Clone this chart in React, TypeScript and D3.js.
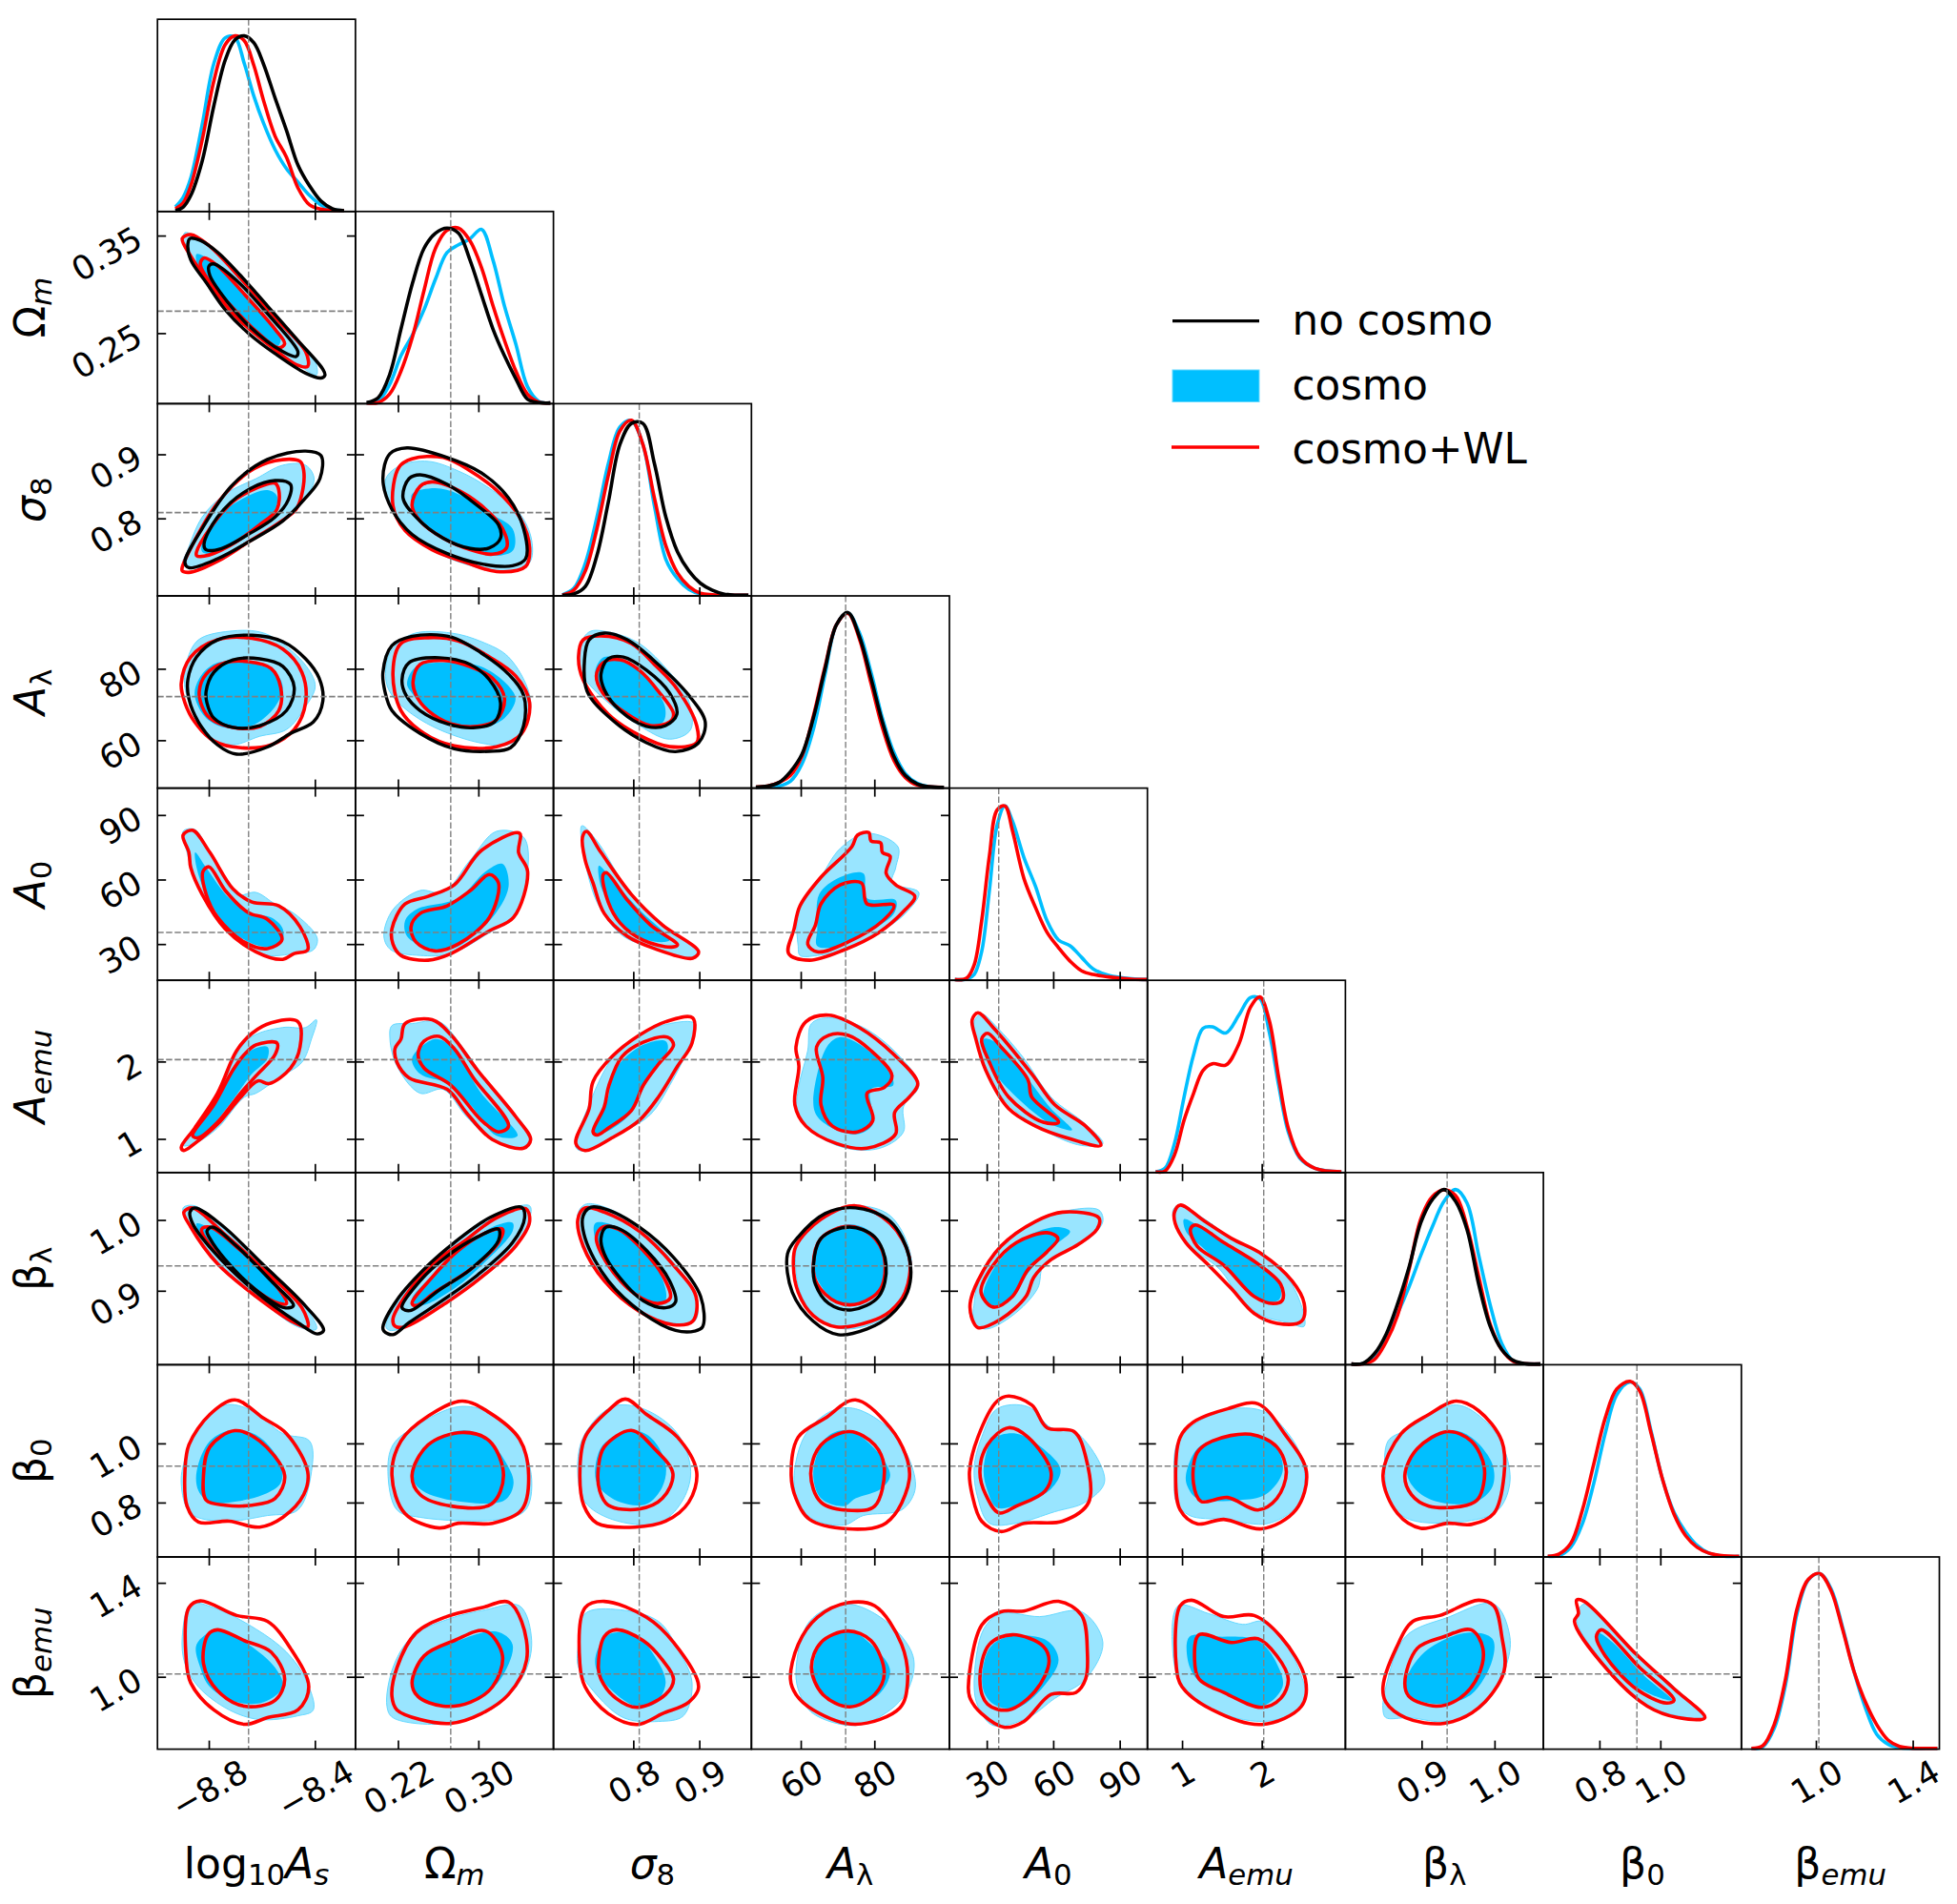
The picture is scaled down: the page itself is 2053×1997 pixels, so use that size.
import React, { useRef, useEffect } from "react";
import * as d3 from "d3";

// parameters, in corner plot order
const paramDomains = [
  [-8.9935, -8.247], [0.1777, 0.3747], [0.679, 0.979], [46.6, 100.4], [13.15, 102.5],
  [0.565, 3.05], [0.7955, 1.067], [0.616, 1.266], [0.692, 1.51],
];
const truths = [-8.65, 0.2725, 0.809, 72.2, 35.4, 2.025, 0.935, 0.923, 1.012];
const xTicks = [[-8.8, -8.4], [0.22, 0.3], [0.8, 0.9], [60, 80], [30, 60, 90], [1, 2], [0.9, 1.0], [0.8, 1.0], [1.0, 1.4]];
const xTickText = [["\u22128.8", "\u22128.4"], ["0.22", "0.30"], ["0.8", "0.9"], ["60", "80"], ["30", "60", "90"], ["1", "2"], ["0.9", "1.0"], ["0.8", "1.0"], ["1.0", "1.4"]];
const yTicks = [[], [0.25, 0.35], [0.8, 0.9], [60, 80], [30, 60, 90], [1, 2], [0.9, 1.0], [0.8, 1.0], [1.0, 1.4]];
const yTickText = [[], ["0.25", "0.35"], ["0.8", "0.9"], ["60", "80"], ["30", "60", "90"], ["1", "2"], ["0.9", "1.0"], ["0.8", "1.0"], ["1.0", "1.4"]];
// label pieces: text, italic, subscript
const axisLabels: any[] = [
  [["log", 0, 0], ["10", 0, 1], ["A", 1, 0], ["s", 1, 1]],
  [["\u03a9", 0, 0], ["m", 1, 1]],
  [["\u03c3", 1, 0], ["8", 0, 1]],
  [["A", 1, 0], ["\u03bb", 0, 1]],
  [["A", 1, 0], ["0", 0, 1]],
  [["A", 1, 0], ["emu", 1, 1]],
  [["\u03b2", 0, 0], ["\u03bb", 0, 1]],
  [["\u03b2", 0, 0], ["0", 0, 1]],
  [["\u03b2", 0, 0], ["emu", 1, 1]],
];
const legendNames = ["no cosmo", "cosmo", "cosmo+WL"];

// 1D posteriors: parameter grid and peak-normalised density of each run
const asGrid = [-8.926, -8.897, -8.868, -8.825, -8.781, -8.738, -8.702, -8.666, -8.63, -8.594, -8.55, -8.507, -8.464, -8.42, -8.377, -8.334, -8.29];
const asNo = [0, 0.02, 0.087, 0.284, 0.6, 0.862, 0.976, 1, 0.96, 0.84, 0.644, 0.459, 0.262, 0.142, 0.055, 0.011, 0];
const asCosmo = [0.022, 0.076, 0.186, 0.491, 0.841, 0.989, 0.993, 0.841, 0.655, 0.502, 0.349, 0.24, 0.164, 0.087, 0.033, 0.007, 0];
const asWL = [0.011, 0.044, 0.142, 0.404, 0.742, 0.95, 1, 0.972, 0.83, 0.633, 0.426, 0.306, 0.131, 0.033, 0.009, 0.002, 0];
const omGrid = [0.1888, 0.2002, 0.2116, 0.223, 0.2345, 0.2459, 0.2573, 0.2688, 0.2802, 0.2916, 0.303, 0.3145, 0.3259, 0.3373, 0.3488, 0.3602, 0.3716];
const omNo = [0.002, 0.029, 0.16, 0.423, 0.686, 0.884, 0.971, 1, 0.971, 0.818, 0.62, 0.423, 0.27, 0.138, 0.022, 0.002, 0];
const omCosmo = [0, 0.011, 0.105, 0.27, 0.39, 0.533, 0.708, 0.86, 0.904, 0.939, 0.993, 0.818, 0.555, 0.336, 0.094, 0.009, 0];
const omWL = [0, 0.002, 0.05, 0.182, 0.379, 0.643, 0.884, 0.987, 1, 0.928, 0.776, 0.557, 0.359, 0.182, 0.05, 0.004, 0];
const s8Grid = [0.6924, 0.7099, 0.7273, 0.7448, 0.7622, 0.7797, 0.7971, 0.8145, 0.832, 0.8494, 0.8669, 0.8843, 0.9017, 0.9192, 0.9366, 0.9541, 0.9744];
const s8No = [0, 0.007, 0.05, 0.226, 0.533, 0.862, 0.982, 0.982, 0.752, 0.445, 0.248, 0.138, 0.068, 0.029, 0.007, 0, 0];
const s8Cosmo = [0.002, 0.039, 0.182, 0.445, 0.752, 0.961, 0.998, 0.862, 0.51, 0.204, 0.094, 0.033, 0.007, 0, 0, 0, 0];
const s8WL = [0, 0.029, 0.138, 0.379, 0.686, 0.939, 1, 0.862, 0.555, 0.281, 0.127, 0.05, 0.011, 0.002, 0, 0, 0];
const alGrid = [47.8, 50.9, 54.1, 57.2, 60.3, 63.4, 66.6, 69.7, 72.8, 75.9, 79.1, 82.2, 85.3, 88.4, 91.6, 94.7, 98.9];
const alNo = [0.002, 0.007, 0.028, 0.09, 0.188, 0.395, 0.678, 0.93, 1, 0.865, 0.624, 0.373, 0.177, 0.068, 0.02, 0.004, 0];
const alCosmo = [0, 0.002, 0.007, 0.035, 0.133, 0.33, 0.646, 0.93, 0.996, 0.886, 0.657, 0.395, 0.199, 0.079, 0.024, 0.004, 0];
const alWL = [0.002, 0.007, 0.028, 0.068, 0.177, 0.406, 0.69, 0.93, 0.996, 0.852, 0.594, 0.341, 0.155, 0.057, 0.013, 0.004, 0];
const a0Grid = [15.6, 20.8, 24.3, 27.7, 31.2, 34.7, 38.2, 41.6, 46.8, 52.0, 57.2, 62.4, 67.6, 72.8, 78.0, 85.0, 95.4, 102.3];
const a0Cosmo = [0, 0.002, 0.029, 0.16, 0.51, 0.884, 0.993, 0.906, 0.697, 0.533, 0.336, 0.226, 0.193, 0.127, 0.061, 0.024, 0.004, 0];
const a0WL = [0, 0.007, 0.083, 0.336, 0.708, 0.971, 0.993, 0.851, 0.577, 0.412, 0.27, 0.182, 0.105, 0.05, 0.029, 0.015, 0.002, 0];
const aeGrid = [0.667, 0.786, 0.905, 1.024, 1.143, 1.262, 1.381, 1.548, 1.714, 1.857, 1.976, 2.095, 2.214, 2.333, 2.476, 2.667, 3.0];
const aeCosmo = [0, 0.02, 0.162, 0.425, 0.667, 0.82, 0.829, 0.794, 0.897, 0.996, 0.991, 0.798, 0.491, 0.228, 0.079, 0.02, 0];
const aeWL = [0, 0.004, 0.096, 0.294, 0.447, 0.579, 0.618, 0.61, 0.732, 0.94, 1, 0.864, 0.535, 0.25, 0.085, 0.02, 0];
const blGrid = [0.8037, 0.8196, 0.8354, 0.8513, 0.8672, 0.8831, 0.8989, 0.9148, 0.9307, 0.9466, 0.9624, 0.9783, 0.9942, 1.0101, 1.0259, 1.0418, 1.063];
const blNo = [0, 0.004, 0.059, 0.17, 0.346, 0.558, 0.808, 0.941, 0.998, 0.93, 0.767, 0.456, 0.214, 0.081, 0.02, 0.002, 0];
const blCosmo = [0, 0.002, 0.033, 0.159, 0.291, 0.445, 0.621, 0.786, 0.93, 0.998, 0.919, 0.621, 0.335, 0.115, 0.015, 0.002, 0];
const blWL = [0, 0, 0.026, 0.126, 0.28, 0.546, 0.83, 0.958, 0.996, 0.963, 0.786, 0.5, 0.225, 0.081, 0.015, 0.002, 0];
const b0Grid = [0.6302, 0.6679, 0.7057, 0.7434, 0.7811, 0.8189, 0.8566, 0.9006, 0.9321, 0.9698, 1.0075, 1.0453, 1.083, 1.1208, 1.1585, 1.2088, 1.2591];
const b0Cosmo = [0, 0.004, 0.051, 0.183, 0.415, 0.702, 0.923, 0.996, 0.956, 0.713, 0.437, 0.249, 0.139, 0.062, 0.018, 0, 0];
const b0WL = [0, 0.013, 0.073, 0.26, 0.525, 0.79, 0.956, 1, 0.945, 0.702, 0.437, 0.238, 0.117, 0.051, 0.018, 0.002, 0];
const beGrid = [0.7333, 0.7804, 0.8275, 0.8745, 0.9216, 0.9686, 1.0157, 1.0627, 1.1098, 1.1569, 1.2039, 1.251, 1.298, 1.3451, 1.3922, 1.4549, 1.502];
const beCosmo = [0, 0.009, 0.114, 0.365, 0.77, 0.963, 1, 0.912, 0.694, 0.442, 0.234, 0.081, 0.024, 0.004, 0, 0, 0];
const beWL = [0, 0.015, 0.136, 0.398, 0.796, 0.967, 1, 0.902, 0.683, 0.442, 0.267, 0.136, 0.048, 0.011, 0.002, 0, 0];

// 2D contours, flat x,y lists. c = cosmo, w = cosmo+WL, n = no cosmo; 2 = outer, 1 = inner
const omAs_c2 = [-8.89,.353,-8.825,.345,-8.723,.321,-8.608,.284,-8.478,.243,-8.399,.221,-8.394,.207,-8.449,.215,-8.579,.239,-8.695,.266,-8.796,.298,-8.868,.325,-8.897,.345];
const omAs_c1 = [-8.846,.331,-8.796,.325,-8.666,.288,-8.529,.243,-8.55,.235,-8.666,.262,-8.767,.294,-8.839,.317];
const omAs_w2 = [-8.9,.347,-8.868,.351,-8.796,.339,-8.68,.306,-8.55,.266,-8.435,.231,-8.427,.216,-8.464,.217,-8.579,.239,-8.709,.27,-8.81,.306,-8.868,.329];
const omAs_w1 = [-8.832,.321,-8.817,.327,-8.767,.319,-8.666,.29,-8.55,.254,-8.514,.239,-8.536,.235,-8.622,.252,-8.723,.28,-8.796,.302];
const omAs_n2 = [-8.871,.347,-8.832,.345,-8.767,.333,-8.68,.309,-8.579,.278,-8.464,.2425,-8.37,.213,-8.362,.207,-8.377,.204,-8.435,.209,-8.55,.229,-8.651,.25,-8.738,.274,-8.81,.302,-8.868,.325,-8.879,.341];
const omAs_n1 = [-8.799,.319,-8.781,.321,-8.695,.304,-8.579,.27,-8.464,.231,-8.471,.226,-8.521,.231,-8.651,.258,-8.752,.29,-8.796,.309];

const s8As_c2 = [-8.882,.748,-8.825,.802,-8.738,.838,-8.622,.862,-8.521,.883,-8.435,.883,-8.403,.862,-8.435,.832,-8.521,.796,-8.651,.763,-8.781,.731,-8.868,.722,-8.897,.731];
const s8As_c1 = [-8.825,.763,-8.767,.802,-8.68,.829,-8.579,.844,-8.543,.835,-8.55,.814,-8.622,.787,-8.723,.76,-8.796,.745,-8.825,.748];
const s8As_w2 = [-8.901,.722,-8.851,.767,-8.767,.824,-8.651,.872,-8.55,.89,-8.456,.889,-8.442,.874,-8.449,.838,-8.471,.814,-8.536,.793,-8.651,.763,-8.767,.733,-8.868,.716,-8.9,.718];
const s8As_w1 = [-8.846,.748,-8.796,.784,-8.709,.826,-8.622,.847,-8.55,.855,-8.536,.844,-8.543,.814,-8.608,.79,-8.723,.757,-8.817,.741,-8.846,.742];
const s8As_n2 = [-8.89,.731,-8.825,.784,-8.709,.853,-8.579,.892,-8.435,.905,-8.377,.898,-8.381,.862,-8.435,.832,-8.521,.796,-8.651,.763,-8.767,.737,-8.875,.723];
const s8As_n1 = [-8.818,.76,-8.767,.802,-8.666,.841,-8.55,.859,-8.492,.853,-8.5,.829,-8.55,.802,-8.651,.775,-8.752,.753,-8.81,.751];

const s8Om_c2 = [.208,.862,.223,.883,.25,.889,.28,.874,.311,.847,.341,.808,.353,.766,.351,.731,.33,.716,.295,.725,.261,.745,.231,.778,.212,.82];
const s8Om_c1 = [.234,.838,.257,.847,.28,.838,.311,.808,.334,.784,.335,.751,.322,.742,.292,.751,.261,.772,.238,.802,.234,.823];
const s8Om_w2 = [.215,.82,.221,.88,.234,.893,.265,.895,.292,.874,.318,.844,.341,.802,.351,.754,.347,.725,.318,.717,.288,.731,.254,.751,.227,.781];
const s8Om_w1 = [.234,.82,.242,.85,.254,.857,.276,.847,.303,.82,.324,.784,.328,.754,.314,.744,.292,.751,.265,.769,.242,.796];
const s8Om_n2 = [.205,.862,.212,.901,.229,.91,.269,.895,.303,.871,.33,.832,.345,.784,.347,.737,.334,.726,.303,.729,.269,.745,.234,.775,.214,.814];
const s8Om_n1 = [.225,.832,.231,.862,.242,.868,.269,.853,.299,.82,.32,.79,.322,.769,.311,.754,.292,.753,.265,.769,.238,.802];

const alAs_c2 = [-8.882,82.3,-8.839,88.1,-8.723,90.5,-8.593,90,-8.478,84.4,-8.413,78.5,-8.399,74.8,-8.435,69.4,-8.507,63,-8.608,61.1,-8.709,58.7,-8.796,60.3,-8.853,67.3,-8.89,74.8];
const alAs_c1 = [-8.853,73.7,-8.825,78.5,-8.767,81.7,-8.651,81.7,-8.55,79,-8.521,74.8,-8.55,69.4,-8.637,64.1,-8.738,63.5,-8.81,66.2,-8.846,70.5];
const alAs_w2 = [-8.904,75.8,-8.868,83.3,-8.767,88.1,-8.637,88.5,-8.521,85.5,-8.449,79,-8.435,70.5,-8.478,63,-8.565,58.7,-8.68,57.9,-8.781,59.8,-8.853,65.1,-8.89,70.5];
const alAs_w1 = [-8.836,73.7,-8.81,78.5,-8.738,81.7,-8.651,82,-8.565,80.1,-8.529,74.8,-8.536,68.3,-8.608,63.8,-8.709,63.6,-8.796,66.2,-8.825,69.4];
const alAs_n2 = [-8.879,76.9,-8.846,83.3,-8.767,88.1,-8.637,89.4,-8.521,87.6,-8.435,82.8,-8.384,77.4,-8.37,71,-8.406,65.1,-8.492,61.9,-8.579,58.1,-8.695,56.1,-8.767,58.7,-8.839,65.1,-8.875,71.6];
const alAs_n1 = [-8.81,73.7,-8.781,79,-8.709,82.5,-8.608,82.8,-8.521,80.7,-8.478,74.8,-8.507,68.3,-8.608,64.1,-8.709,63.6,-8.781,66.2,-8.807,70.5];

const alOm_c2 = [.208,76.9,.212,84.4,.234,89.7,.273,90,.303,87.6,.33,83.3,.351,72.6,.349,65.1,.332,59,.307,59,.265,62.5,.234,67.3,.214,72.6];
const alOm_c1 = [.229,75.8,.238,80.6,.273,81.7,.303,80.6,.328,75.8,.337,71.6,.326,66.2,.303,63.5,.273,64.6,.246,69.4,.234,73.2];
const alOm_w2 = [.215,79,.223,87.1,.25,88.7,.28,87.8,.311,83.3,.337,78,.351,70.5,.343,61.9,.318,58.2,.276,58.4,.246,61.9,.223,68.3];
const alOm_w1 = [.235,76.4,.242,81.2,.265,82.3,.292,80.6,.314,77.4,.326,71.6,.318,65.7,.299,63.9,.273,64.6,.25,68.3,.238,72.6];
const alOm_n2 = [.205,79,.214,86.5,.234,89.1,.273,88.9,.303,84.4,.33,78.5,.345,72.6,.345,64.1,.332,57.9,.311,56.9,.276,57.6,.242,61.9,.214,68.3,.207,73.7];
const alOm_n1 = [.224,76.9,.231,81.7,.261,83.1,.292,81.2,.311,76.9,.322,70.5,.316,65.1,.295,63.5,.269,64.6,.242,68.3,.228,72.6];

const alS8_c2 = [.716,84.4,.733,90.3,.762,90.3,.809,87.1,.855,79,.881,72.6,.887,63,.855,60.3,.809,64.1,.762,70.5,.724,78];
const alS8_c1 = [.742,79,.756,83.3,.791,81.7,.826,75.8,.848,69.4,.845,65.1,.82,64.1,.785,68.3,.754,73.7];
const alS8_w2 = [.717,83.3,.724,88.1,.751,89.2,.797,87.1,.832,81.2,.867,74.2,.896,64.1,.896,59.3,.855,58.2,.809,61.4,.762,67.3,.724,76.9];
const alS8_w1 = [.744,78,.754,81.7,.78,82.5,.809,79.6,.838,73.7,.861,67.3,.855,65.1,.826,64.1,.791,67.3,.754,73.2];
const alS8_n2 = [.726,82.3,.733,88.1,.756,90,.791,88.1,.838,81.2,.884,72.6,.909,65.1,.899,59.3,.864,56.8,.82,59.3,.768,65.7,.73,73.7];
const alS8_n1 = [.751,78.5,.762,82.8,.785,83.3,.82,79.6,.855,73.2,.866,67.3,.849,64.1,.82,63.9,.78,68.3,.756,74.2];

const a0As_c2 = [-8.897,82.4,-8.853,83.3,-8.796,72.6,-8.695,53.1,-8.622,54,-8.55,48.6,-8.478,44.2,-8.391,32.7,-8.406,27.3,-8.478,25.6,-8.579,24.7,-8.666,29.1,-8.767,40.7,-8.853,60.2,-8.882,72.6];
const a0As_c1 = [-8.851,72.6,-8.81,65.5,-8.723,51.3,-8.637,44.2,-8.565,42.4,-8.521,37.1,-8.529,30,-8.608,29.1,-8.723,37.1,-8.81,53.1,-8.846,65.5];
const a0As_w2 = [-8.897,80.6,-8.861,82.9,-8.796,72.6,-8.709,55.7,-8.637,49.5,-8.536,47.8,-8.456,38,-8.427,27.3,-8.478,25.6,-8.521,22.9,-8.622,26.4,-8.738,37.1,-8.825,53.1,-8.868,65.5,-8.875,72.6];
const a0As_w1 = [-8.822,63.7,-8.799,65.9,-8.738,54.9,-8.651,44.6,-8.579,41.5,-8.524,32.1,-8.579,27.9,-8.666,30.9,-8.767,42.4,-8.81,53.1];
const a0Om_c2 = [.206,33.6,.215,46,.242,54.9,.265,54,.292,69.1,.318,82.4,.345,79.7,.349,63.7,.335,42.4,.311,35.3,.273,25.6,.242,24.7,.213,27.3];
const a0Om_c1 = [.227,40.7,.238,46,.28,51.3,.307,63.7,.324,67.3,.33,56.6,.311,40.7,.276,28.2,.25,28.2,.229,33.6];
const a0Om_w2 = [.214,37.1,.227,48.6,.25,52.2,.276,57.5,.303,73.5,.341,81.5,.34,72.6,.349,63.7,.335,42.4,.311,36.2,.273,25.6,.25,22.5,.223,24.7,.215,30];
const a0Om_w1 = [.233,38,.242,44.2,.269,47.8,.292,54.9,.311,62.3,.32,58.4,.311,42.4,.28,30,.257,26.8,.238,30.9];
const a0S8_c2 = [.722,85,.745,77.9,.785,58.4,.82,46,.855,36.2,.899,26.4,.884,23.8,.832,28.2,.785,33.6,.751,46,.733,60.2];
const a0S8_c1 = [.748,66.4,.765,61.1,.809,46,.855,31.8,.82,31.8,.785,38,.765,48.6,.751,56.6];
const a0S8_w2 = [.723,79.7,.729,82.4,.751,72.6,.797,53.1,.844,38.9,.899,26.4,.89,23.4,.832,27.9,.791,33.6,.756,44.2,.739,58.4,.727,69.1];
const a0S8_w1 = [.754,62,.759,63.2,.791,50.4,.826,38.9,.867,29.6,.858,28.6,.815,31.8,.78,39.8,.762,49.5];
const a0Al_c2 = [59.3,29.1,59.3,44.2,65.5,61.1,70.7,74.4,78,81.5,86.4,75.3,85.8,65.5,84.8,58.4,92.1,54,88.4,44.2,81.2,35.3,71.8,27.3,64.5,24.7,59.8,24.7];
const a0Al_c1 = [64.5,37.1,65,53.1,70.7,61.1,77,62.9,78,51.3,85.8,50.4,85.3,44.2,77,34.4,70.7,29.1,64.5,29.1];
const a0Al_w2 = [56.7,25.6,58.2,37.1,59.8,47.8,65.5,61.1,73.9,75.3,75.4,80.6,78.5,81.8,79.1,77.9,81.7,77.1,82.2,72.6,84.3,70.8,83.2,62.9,85.8,57.5,91,52.2,88.4,46,81.2,35.3,71.8,27.3,62.4,22.5];
const a0Al_w1 = [61.9,30,64,38.9,65.5,48.7,70.7,57.5,76.5,58.4,78,48.7,85.3,48.1,82.2,40.7,72.8,30.9,64.5,26.4];

const aeAs_c2 = [-8.897,.915,-8.839,1.19,-8.752,1.69,-8.651,2.29,-8.521,2.44,-8.435,2.44,-8.394,2.54,-8.413,2.29,-8.449,1.99,-8.536,1.79,-8.622,1.59,-8.666,1.54,-8.767,1.14,-8.853,.94];
const aeAs_c1 = [-8.861,1.04,-8.752,1.59,-8.666,2.09,-8.579,2.19,-8.579,2.04,-8.637,1.84,-8.723,1.44,-8.825,1.04];
const aeAs_w2 = [-8.904,.89,-8.853,1.14,-8.767,1.59,-8.695,2.14,-8.637,2.365,-8.565,2.5,-8.464,2.515,-8.456,2.19,-8.492,1.915,-8.572,1.715,-8.615,1.75,-8.68,1.54,-8.767,1.19,-8.853,.94,-8.894,.85];
const aeAs_w1 = [-8.861,1.04,-8.781,1.44,-8.709,1.89,-8.666,2.09,-8.622,2.215,-8.543,2.24,-8.55,2.09,-8.622,1.815,-8.68,1.59,-8.767,1.215,-8.839,1.015];
const aeOm_c2 = [.212,2.29,.214,2.465,.234,2.49,.261,2.515,.284,2.19,.311,1.69,.351,1.04,.347,.89,.314,.99,.288,1.29,.265,1.64,.242,1.59,.219,1.94];
const aeOm_c1 = [.234,2.04,.257,2.29,.273,2.19,.303,1.59,.339,1.04,.318,1.04,.292,1.44,.269,1.715,.242,1.84];
const aeOm_w2 = [.217,2.165,.223,2.29,.227,2.49,.254,2.54,.273,2.34,.299,1.89,.337,1.29,.352,.99,.345,.88,.314,.99,.288,1.34,.269,1.64,.231,1.79,.219,1.99];
const aeOm_w1 = [.24,2.09,.246,2.265,.261,2.325,.276,2.165,.295,1.79,.33,1.165,.32,1.09,.303,1.24,.273,1.69,.246,1.915];
const aeS8_c2 = [.713,.89,.733,1.44,.768,2.04,.809,2.34,.855,2.49,.893,2.49,.884,2.19,.855,1.69,.826,1.315,.785,1.09,.727,.84];
const aeS8_c1 = [.739,1.09,.762,1.54,.768,1.84,.809,2.19,.849,2.265,.852,2.14,.82,1.79,.797,1.34,.751,1.065];
const aeS8_w2 = [.713,.94,.733,1.39,.739,1.74,.768,2.065,.809,2.34,.849,2.515,.89,2.565,.889,2.24,.867,1.94,.838,1.54,.809,1.24,.768,1.015,.727,.85];
const aeS8_w1 = [.739,1.09,.756,1.415,.763,1.69,.783,2.065,.815,2.25,.852,2.315,.861,2.215,.838,1.965,.815,1.69,.797,1.365,.762,1.14,.745,1.05];
const aeAl_c2 = [59.3,1.64,61.9,2.14,62.9,2.49,67.6,2.565,77,2.44,86.4,2.09,92.1,1.69,87.9,1.415,87.9,1.09,82.2,.89,73.9,.865,65.5,1.015,59.3,1.29];
const aeAl_c1 = [63.4,1.49,67.1,2.19,70.7,2.315,77,2.19,84.3,1.84,85.1,1.69,79.1,1.64,79.6,1.19,75.9,1.065,69.7,1.115,64.5,1.29];
const aeAl_w2 = [58.7,2.19,61.4,2.515,67.6,2.6,75.9,2.44,85.3,2.09,91.8,1.715,89.5,1.54,85.5,1.34,85.8,1.065,78,.88,69.7,.94,61.4,1.165,58.4,1.44,59.5,1.94];
const aeAl_w1 = [64.3,2.19,67.6,2.34,72.8,2.34,79.1,2.14,84.8,1.815,82.7,1.665,78,1.59,79.6,1.24,75.4,1.09,68.6,1.165,65.5,1.44,66,1.79];
const aeA0_c2 = [24.3,2.515,27.7,2.615,34.7,2.44,46.8,2.04,59,1.54,74.6,1.19,82.4,.94,72.8,.915,57.2,1.09,39.9,1.44,29.5,1.89,26,2.19];
const aeA0_c1 = [28.6,2.29,34.7,2.24,46.8,1.84,59,1.39,68.5,1.115,59,1.19,43.4,1.54,32.9,1.89];
const aeA0_w2 = [23.4,2.54,26,2.63,32.9,2.44,50.3,1.84,60.7,1.44,74.6,1.165,81.5,.915,65.9,1.015,52,1.165,39.9,1.39,29.5,1.89,25.1,2.29];
const aeA0_w1 = [27.7,2.29,30.3,2.365,36.4,2.19,48.6,1.765,50.3,1.54,62.4,1.215,55.5,1.215,39.9,1.54,31.2,1.99];

const blAs_c2 = [-8.897,1.017,-8.853,1.02,-8.752,.99,-8.608,.938,-8.435,.876,-8.394,.846,-8.464,.849,-8.622,.892,-8.752,.936,-8.853,.979];
const blAs_c1 = [-8.846,.995,-8.752,.979,-8.622,.936,-8.514,.884,-8.565,.884,-8.68,.917,-8.781,.957,-8.839,.984];
const blAs_w2 = [-8.894,1.011,-8.861,1.017,-8.738,.979,-8.593,.93,-8.449,.876,-8.427,.849,-8.478,.855,-8.622,.892,-8.767,.938,-8.868,.99];
const blAs_w1 = [-8.827,.987,-8.796,.99,-8.68,.957,-8.55,.909,-8.507,.882,-8.55,.884,-8.666,.914,-8.781,.957];
const blAs_n2 = [-8.871,1.011,-8.853,1.017,-8.752,.993,-8.593,.936,-8.449,.884,-8.367,.844,-8.391,.839,-8.464,.855,-8.622,.898,-8.781,.955,-8.861,.995];
const blAs_n1 = [-8.807,.984,-8.788,.99,-8.695,.963,-8.565,.914,-8.481,.879,-8.514,.876,-8.622,.901,-8.738,.944,-8.796,.974];
const blOm_c2 = [.208,.849,.219,.882,.25,.936,.28,.974,.314,1.006,.351,1.02,.351,1.001,.337,.963,.303,.919,.265,.882,.227,.849,.212,.844];
const blOm_c1 = [.234,.887,.257,.925,.284,.96,.314,.99,.334,.996,.334,.984,.307,.941,.276,.903,.242,.879];
const blOm_w2 = [.215,.86,.227,.892,.257,.941,.284,.968,.318,1.003,.347,1.016,.351,.998,.337,.963,.303,.919,.269,.884,.227,.849,.217,.85];
const blOm_w1 = [.234,.882,.254,.919,.28,.957,.311,.984,.324,.987,.32,.968,.292,.93,.257,.898,.238,.879];
const blOm_n2 = [.205,.849,.219,.887,.25,.936,.276,.968,.311,1.003,.343,1.018,.346,1.003,.334,.968,.299,.922,.265,.887,.231,.855,.215,.838,.206,.843];
const blOm_n1 = [.224,.876,.242,.914,.269,.949,.299,.976,.32,.987,.32,.971,.292,.93,.261,.901,.232,.872];
const blS8_c2 = [.716,1.009,.727,1.022,.751,1.02,.803,.995,.855,.947,.896,.892,.893,.857,.855,.855,.809,.871,.756,.914,.722,.968];
const blS8_c1 = [.742,.995,.762,.995,.797,.974,.838,.93,.849,.887,.832,.884,.797,.898,.762,.936,.742,.974];
const blS8_w2 = [.716,1.001,.727,1.017,.756,1.011,.809,.984,.861,.936,.895,.892,.89,.857,.861,.852,.809,.871,.756,.914,.724,.963];
const blS8_w1 = [.744,.976,.754,.99,.777,.987,.815,.957,.846,.919,.856,.89,.838,.882,.803,.895,.762,.936];
const blS8_n2 = [.724,1.006,.736,1.018,.762,1.014,.809,.99,.861,.947,.902,.892,.905,.849,.893,.843,.864,.844,.815,.868,.762,.914,.727,.974];
const blS8_n1 = [.751,.974,.759,.99,.78,.987,.82,.957,.855,.914,.864,.884,.849,.876,.815,.886,.774,.925,.756,.952];
const blAl_c2 = [58.7,.93,59.3,.968,65.5,1.003,74.9,1.02,84.3,1.006,90,.947,88.4,.892,82.2,.86,72.8,.846,65.5,.857,60.3,.892];
const blAl_c1 = [63.4,.936,65.5,.974,71.8,.993,78,.987,82.7,.952,82.7,.909,77,.882,70.7,.882,66,.903];
const blAl_w2 = [58,.936,58.7,.963,65.5,1.001,74.9,1.02,84.3,.995,89.5,.947,88.4,.898,84.3,.871,79.1,.857,69.7,.849,63.4,.865,59.3,.898];
const blAl_w1 = [63.4,.936,65.5,.974,72.8,.991,79.1,.979,82.7,.947,81.7,.903,75.9,.882,69.7,.884,64.5,.909];
const blAl_n2 = [56.4,.952,59.3,.976,66.6,1.009,74.9,1.017,84.3,.998,89.5,.947,89,.898,84.3,.865,78,.846,70.2,.838,63.4,.857,57.7,.898];
const blAl_n1 = [63.4,.933,65.5,.974,73.3,.99,80.1,.976,83.2,.936,81.2,.892,73.9,.873,67.6,.882,64,.909];
const blA0_c2 = [24.3,.882,26,.909,36.4,.963,52,.998,65.9,1.013,80.6,1.014,82.4,.998,76.3,.974,64.2,.955,55.5,.936,52.9,.903,41.6,.865,29.5,.846,24.3,.855];
const blA0_c1 = [28.6,.892,32.9,.93,45.1,.971,60.7,.99,67.6,.984,59,.96,48.6,.925,41.6,.89,32.9,.879];
const blA0_w2 = [22.5,.882,26,.914,36.4,.963,52,.998,64.2,1.011,80.6,1.003,79.8,.987,71.1,.965,59,.944,51.2,.919,47.7,.892,36.4,.86,26,.848,23.4,.86];
const blA0_w1 = [27.4,.898,32.9,.936,43.4,.968,57.2,.982,62.1,.974,57.2,.955,48.6,.93,41.6,.892,32.9,.877];
const blAe_c2 = [.881,1.011,.952,1.021,1.286,1.001,1.619,.974,2,.952,2.38,.909,2.533,.85,2.333,.855,2,.865,1.714,.892,1.476,.93,1.048,.968];
const blAe_c1 = [1.024,1.001,1.19,.993,1.619,.963,2,.936,2.238,.903,2.214,.887,2,.887,1.619,.925,1.238,.963,1.048,.984];
const blAe_w2 = [.905,1.011,.976,1.021,1.286,.998,1.619,.974,2,.952,2.38,.914,2.533,.882,2.499,.857,2.19,.854,1.904,.868,1.619,.903,1.333,.936,1.048,.968,.914,.995];
const blAe_w1 = [1.105,.987,1.167,.993,1.524,.968,1.952,.938,2.238,.909,2.261,.887,2.142,.882,1.904,.892,1.524,.936,1.19,.963];

const b0As_c2 = [-8.904,.866,-8.882,.969,-8.825,1.072,-8.738,1.13,-8.637,1.111,-8.521,1.033,-8.42,1.008,-8.413,.904,-8.464,.775,-8.579,.756,-8.738,.737,-8.868,.763];
const b0As_c1 = [-8.846,.904,-8.796,1.008,-8.709,1.046,-8.608,1.021,-8.529,.93,-8.529,.866,-8.593,.827,-8.695,.804,-8.796,.801,-8.839,.84];
const b0As_w2 = [-8.89,.904,-8.875,.995,-8.796,1.098,-8.702,1.147,-8.593,1.085,-8.507,1.033,-8.427,.904,-8.442,.827,-8.521,.75,-8.608,.717,-8.723,.737,-8.839,.734,-8.882,.788];
const b0As_w1 = [-8.82,.892,-8.796,.988,-8.702,1.043,-8.608,1.008,-8.514,.892,-8.55,.814,-8.637,.791,-8.738,.791,-8.81,.808];
const b0Om_c2 = [.21,.904,.215,.995,.238,1.059,.28,1.124,.311,1.104,.341,1.008,.353,.879,.347,.775,.322,.743,.242,.75,.219,.775];
const b0Om_c1 = [.234,.892,.25,.995,.284,1.044,.307,1.021,.326,.943,.335,.866,.326,.808,.273,.808,.242,.846];
const b0Om_w2 = [.214,.892,.223,1.008,.25,1.092,.284,1.143,.311,1.104,.341,1.014,.35,.892,.343,.775,.314,.73,.28,.73,.261,.714,.227,.763];
const b0Om_w1 = [.234,.892,.25,.995,.284,1.037,.311,1.008,.325,.892,.313,.795,.273,.788,.242,.827];
const b0S8_c2 = [.716,.892,.724,1.021,.768,1.124,.815,1.117,.867,1.033,.887,.904,.873,.801,.838,.73,.768,.743,.727,.801];
const b0S8_c1 = [.742,.904,.754,.995,.797,1.044,.826,1.021,.849,.93,.844,.853,.82,.795,.78,.801,.748,.853];
const b0S8_w2 = [.719,.892,.727,1.021,.762,1.111,.788,1.15,.82,1.098,.867,1.021,.896,.904,.884,.801,.849,.737,.803,.717,.745,.73,.725,.79];
const b0S8_w1 = [.747,.917,.756,.988,.797,1.044,.832,.982,.86,.898,.844,.814,.809,.778,.762,.791,.749,.84];
const b0Al_c2 = [58.2,.892,61.4,1.033,68.6,1.111,74.9,1.117,84.3,1.046,90,.93,91,.84,87.4,.775,77,.756,71.8,.724,63.4,.743,59.3,.801];
const b0Al_c1 = [63.4,.904,67.1,1.021,72.8,1.044,80.1,.982,84.3,.892,81.7,.846,74.9,.814,71.8,.788,65.5,.814];
const b0Al_w2 = [57.4,.892,59.3,1.021,66.6,1.085,74.9,1.147,84.3,1.053,89,.943,89.5,.879,86.4,.775,82.2,.724,72.8,.711,62.4,.743,58.7,.814];
const b0Al_w1 = [62.7,.898,65.5,.995,73.3,1.04,80.1,.995,82.7,.917,80.1,.788,73.9,.773,65.5,.801];
const b0A0_c2 = [24.3,.917,27.7,1.021,34.7,1.117,48.6,1.124,59,1.053,71.1,1.033,83.2,.872,74.4,.801,60.7,.769,43.4,.73,31.2,.73,26,.814];
const b0A0_c1 = [28.6,.917,32.9,1.014,43.4,1.033,55.5,.982,63.3,.911,59,.846,46.8,.801,34.7,.782,30.3,.84];
const b0A0_w2 = [22.2,.904,26,1.021,34.7,1.143,39.9,1.16,50.3,1.13,57.2,1.053,69.4,1.04,74.6,.956,76,.801,64.2,.737,46.8,.73,36.4,.702,27.7,.737,23.4,.827];
const b0A0_w1 = [26.9,.904,30.3,.995,39.9,1.053,48.6,1.021,59,.904,56.4,.84,43.4,.788,35.5,.765,29.5,.827];
const b0Ae_c2 = [.905,.879,.952,1.008,1.428,1.104,2,1.111,2.333,1.033,2.523,.93,2.476,.801,2.095,.73,1.524,.743,1.095,.756,.929,.801];
const b0Ae_c1 = [1.048,.892,1.19,.982,1.428,1.014,1.904,1.033,2.19,.982,2.261,.904,2.047,.827,1.714,.808,1.19,.814,1.071,.853];
const b0Ae_w2 = [.919,.904,.976,1.021,1.143,1.072,1.571,1.117,1.952,1.134,2.285,1.033,2.561,.904,2.428,.775,2,.711,1.524,.743,1.19,.728,.976,.775];
const b0Ae_w1 = [1.143,.866,1.19,.969,1.381,1.008,1.857,1.031,2.19,.988,2.309,.904,2.19,.814,1.952,.775,1.571,.817,1.238,.804];
const b0Bl_c2 = [.85,.892,.854,1.008,.878,1.044,.947,1.13,.989,1.072,1.013,.982,1.021,.866,1.005,.775,.968,.739,.883,.743,.857,.801];
const b0Bl_c1 = [.88,.904,.899,.988,.936,1.044,.968,1.021,.997,.93,.997,.853,.973,.801,.92,.804,.891,.846];
const b0Bl_w2 = [.847,.892,.872,1.033,.91,1.098,.947,1.143,.978,1.111,1.01,1.008,1.013,.892,.999,.763,.968,.726,.936,.73,.899,.713,.867,.763];
const b0Bl_w1 = [.877,.892,.894,.982,.936,1.04,.968,1.008,.986,.917,.978,.814,.962,.791,.91,.788,.886,.827];

const beAs_c2 = [-8.9,1.171,-8.868,1.31,-8.781,1.294,-8.622,1.203,-8.507,1.105,-8.435,.99,-8.406,.859,-8.464,.834,-8.608,.818,-8.723,.859,-8.839,.957,-8.89,1.056];
const beAs_c1 = [-8.846,1.138,-8.767,1.2,-8.651,1.138,-8.55,1.039,-8.521,.957,-8.593,.892,-8.695,.892,-8.796,.957,-8.832,1.039];
const beAs_w2 = [-8.885,1.072,-8.875,1.294,-8.832,1.323,-8.695,1.261,-8.579,1.236,-8.492,1.121,-8.423,.957,-8.464,.859,-8.579,.826,-8.666,.798,-8.781,.859,-8.868,.974];
const beAs_w1 = [-8.82,1.056,-8.803,1.179,-8.767,1.2,-8.666,1.154,-8.565,1.105,-8.514,.99,-8.55,.9,-8.666,.875,-8.767,.941];
const beOm_c2 = [.209,.875,.215,1.039,.234,1.171,.269,1.244,.307,1.285,.341,1.302,.353,1.154,.345,1.007,.318,.875,.273,.802,.215,.826];
const beOm_c1 = [.234,.974,.246,1.089,.28,1.154,.318,1.192,.334,1.138,.322,.99,.299,.908,.269,.875,.242,.908];
const beOm_w2 = [.214,.916,.219,1.039,.238,1.187,.269,1.257,.303,1.294,.33,1.318,.343,1.236,.348,1.072,.33,.925,.303,.843,.273,.802,.242,.818,.219,.859];
const beOm_w1 = [.234,.974,.246,1.089,.276,1.154,.307,1.195,.324,1.089,.314,.957,.292,.892,.265,.875,.24,.916];
const beS8_c2 = [.716,1.121,.727,1.269,.78,1.285,.838,1.236,.87,1.105,.889,.974,.876,.834,.838,.81,.785,.826,.739,.941,.717,1.039];
const beS8_c1 = [.743,1.089,.762,1.179,.803,1.179,.832,1.089,.849,.974,.832,.884,.803,.875,.762,.957,.745,1.023];
const beS8_w2 = [.719,1.056,.727,1.294,.756,1.321,.82,1.253,.861,1.146,.899,.957,.884,.892,.844,.843,.806,.797,.762,.843,.727,.957];
const beS8_w1 = [.747,1.039,.756,1.171,.774,1.2,.815,1.154,.844,1.072,.861,.99,.849,.925,.806,.87,.774,.908,.751,.99];
const beAl_c2 = [58.7,1.023,62.4,1.236,72.3,1.31,83.2,1.236,90.5,1.089,89.5,.957,84.3,.859,74.9,.793,63.4,.843,59.8,.925];
const beAl_c1 = [63.4,1.023,65.5,1.138,73.3,1.195,81.2,1.105,84.3,1.023,81.2,.925,72.8,.875,65.5,.925];
const beAl_w2 = [57.2,.99,59.3,1.138,64.5,1.253,72.8,1.315,80.1,1.302,87.4,1.138,89,.974,86.9,.867,74.9,.798,63.4,.859,58.7,.925];
const beAl_w1 = [62.9,1.039,65.5,1.146,72.8,1.195,79.1,1.154,82.7,1.015,80.1,.925,73.3,.872,66,.925];
const beA0_c2 = [24.3,.974,28.6,1.203,36.4,1.269,53.8,1.256,72.8,1.277,82.4,1.146,74.6,.99,60.7,.908,48.6,.826,32.9,.793,26,.875];
const beA0_c1 = [28.1,.957,31.2,1.121,39.9,1.171,57.2,1.154,62.4,1.072,55.5,.957,43.4,.867,32.9,.884];
const beA0_w2 = [21.7,.957,27.7,1.22,36.4,1.277,46.8,1.28,62.4,1.321,72.8,1.261,75.4,1.105,74.6,.99,70.2,.933,59,.925,46.8,.81,38.1,.785,27.7,.843,22.5,.908];
const beA0_w1 = [26.9,.99,31.2,1.138,41.6,1.179,55.5,1.13,58.1,1.064,52,.941,39.9,.859,30.3,.884];
const beAe_c2 = [.881,1.121,.952,1.302,1.333,1.269,1.762,1.223,2,1.236,2.238,1.171,2.476,1.023,2.547,.908,2.38,.843,2,.81,1.381,.859,1,.957];
const beAe_c1 = [1.071,1.072,1.095,1.171,1.428,1.171,1.952,1.154,2.19,1.056,2.261,.957,2,.875,1.571,.925,1.19,.99];
const beAe_w2 = [.929,1.039,.976,1.302,1.119,1.326,1.524,1.256,1.904,1.261,2.238,1.171,2.547,.99,2.499,.875,2,.797,1.381,.859,1,.957];
const beAe_w1 = [1.157,1.072,1.214,1.179,1.619,1.146,1.952,1.162,2.19,1.089,2.333,.99,2.238,.908,2,.87,1.524,.933,1.214,.99];
const beBl_c2 = [.847,.859,.851,.957,.878,1.171,.936,1.253,.999,1.31,1.021,1.171,1.015,1.039,.984,.875,.936,.81,.883,.826,.851,.826];
const beBl_c1 = [.878,.974,.904,1.105,.962,1.187,.997,1.162,.997,1.072,.968,.925,.925,.884,.886,.916];
const beBl_w2 = [.847,.957,.865,1.121,.888,1.236,.925,1.261,.978,1.326,.999,1.302,1.01,1.171,1.013,1.023,.978,.867,.931,.802,.878,.826,.851,.892];
const beBl_w1 = [.877,.974,.894,1.121,.931,1.171,.968,1.2,.984,1.121,.978,1.007,.952,.908,.92,.875,.883,.916];
const beB0_c2 = [.725,1.244,.75,1.31,.92,1.097,1.045,.957,1.146,.826,1.058,.834,.945,.884,.806,1.072];
const beB0_c1 = [.794,1.187,.844,1.146,.945,1.007,1.039,.9,.97,.925,.869,1.007,.8,1.121];
const beB0_w2 = [.725,1.326,.75,1.321,.92,1.097,1.045,.949,1.146,.826,1.058,.826,.957,.875,.831,1.023,.718,1.236,.731,1.269];
const beB0_w1 = [.79,1.171,.806,1.2,.932,1.039,1.045,.9,1.02,.888,.92,.949,.819,1.089];

// row, col, contours
const contourPanels: any[] = [
  [1, 0, omAs_c2, omAs_c1, omAs_w2, omAs_w1, omAs_n2, omAs_n1],
  [2, 0, s8As_c2, s8As_c1, s8As_w2, s8As_w1, s8As_n2, s8As_n1],
  [2, 1, s8Om_c2, s8Om_c1, s8Om_w2, s8Om_w1, s8Om_n2, s8Om_n1],
  [3, 0, alAs_c2, alAs_c1, alAs_w2, alAs_w1, alAs_n2, alAs_n1],
  [3, 1, alOm_c2, alOm_c1, alOm_w2, alOm_w1, alOm_n2, alOm_n1],
  [3, 2, alS8_c2, alS8_c1, alS8_w2, alS8_w1, alS8_n2, alS8_n1],
  [4, 0, a0As_c2, a0As_c1, a0As_w2, a0As_w1],
  [4, 1, a0Om_c2, a0Om_c1, a0Om_w2, a0Om_w1],
  [4, 2, a0S8_c2, a0S8_c1, a0S8_w2, a0S8_w1],
  [4, 3, a0Al_c2, a0Al_c1, a0Al_w2, a0Al_w1],
  [5, 0, aeAs_c2, aeAs_c1, aeAs_w2, aeAs_w1],
  [5, 1, aeOm_c2, aeOm_c1, aeOm_w2, aeOm_w1],
  [5, 2, aeS8_c2, aeS8_c1, aeS8_w2, aeS8_w1],
  [5, 3, aeAl_c2, aeAl_c1, aeAl_w2, aeAl_w1],
  [5, 4, aeA0_c2, aeA0_c1, aeA0_w2, aeA0_w1],
  [6, 0, blAs_c2, blAs_c1, blAs_w2, blAs_w1, blAs_n2, blAs_n1],
  [6, 1, blOm_c2, blOm_c1, blOm_w2, blOm_w1, blOm_n2, blOm_n1],
  [6, 2, blS8_c2, blS8_c1, blS8_w2, blS8_w1, blS8_n2, blS8_n1],
  [6, 3, blAl_c2, blAl_c1, blAl_w2, blAl_w1, blAl_n2, blAl_n1],
  [6, 4, blA0_c2, blA0_c1, blA0_w2, blA0_w1],
  [6, 5, blAe_c2, blAe_c1, blAe_w2, blAe_w1],
  [7, 0, b0As_c2, b0As_c1, b0As_w2, b0As_w1],
  [7, 1, b0Om_c2, b0Om_c1, b0Om_w2, b0Om_w1],
  [7, 2, b0S8_c2, b0S8_c1, b0S8_w2, b0S8_w1],
  [7, 3, b0Al_c2, b0Al_c1, b0Al_w2, b0Al_w1],
  [7, 4, b0A0_c2, b0A0_c1, b0A0_w2, b0A0_w1],
  [7, 5, b0Ae_c2, b0Ae_c1, b0Ae_w2, b0Ae_w1],
  [7, 6, b0Bl_c2, b0Bl_c1, b0Bl_w2, b0Bl_w1],
  [8, 0, beAs_c2, beAs_c1, beAs_w2, beAs_w1],
  [8, 1, beOm_c2, beOm_c1, beOm_w2, beOm_w1],
  [8, 2, beS8_c2, beS8_c1, beS8_w2, beS8_w1],
  [8, 3, beAl_c2, beAl_c1, beAl_w2, beAl_w1],
  [8, 4, beA0_c2, beA0_c1, beA0_w2, beA0_w1],
  [8, 5, beAe_c2, beAe_c1, beAe_w2, beAe_w1],
  [8, 6, beBl_c2, beBl_c1, beBl_w2, beBl_w1],
  [8, 7, beB0_c2, beB0_c1, beB0_w2, beB0_w1],
];
// grid, cosmo, WL, no cosmo
const diagPanels: any[] = [
  [asGrid, asCosmo, asWL, asNo],
  [omGrid, omCosmo, omWL, omNo],
  [s8Grid, s8Cosmo, s8WL, s8No],
  [alGrid, alCosmo, alWL, alNo],
  [a0Grid, a0Cosmo, a0WL],
  [aeGrid, aeCosmo, aeWL],
  [blGrid, blCosmo, blWL, blNo],
  [b0Grid, b0Cosmo, b0WL],
  [beGrid, beCosmo, beWL],
];

const W = 2053;
const H = 1997;
const left = 165.2;
const top = 20.2;
const colW = 207.7;
const rowH = 201.6;
const BLUE = "#00BFFF";
const PALE = "#99E5FF";
const RED = "#FF0000";
const FONT = "'DejaVu Sans', sans-serif";
const tickFont = 35;
const labelFont = 44;

const pairs = (flat: number[]) => d3.range(0, flat.length, 2).map((i) => [flat[i], flat[i + 1]]);

// rough advance widths of DejaVu Sans, to place rotated labels
const textWidth = (s: string) =>
  d3.sum(s.split(""), (ch) => (ch === "." ? 0.318 : ch === "\u2212" ? 0.838 : 0.636)) * tickFont;

const CornerPlot = () => {
  const ref = useRef<SVGSVGElement>(null);

  useEffect(() => {
    const svg = d3.select(ref.current);
    svg.selectAll("*").remove();
    svg.append("rect").attr("width", W).attr("height", H).attr("fill", "white");

    const xOf = (c: number) =>
      d3.scaleLinear().domain(paramDomains[c]).range([left + c * colW, left + (c + 1) * colW]);
    const yOf = (r: number) =>
      d3.scaleLinear().domain(paramDomains[r]).range([top + (r + 1) * rowH, top + r * rowH]);

    const closedLine = (x: any, y: any) =>
      d3.line().x((d: any) => x(d[0])).y((d: any) => y(d[1])).curve(d3.curveCatmullRomClosed.alpha(0.5));

    // contours
    contourPanels.forEach(([r, c, c2, c1, w2, w1, n2, n1]) => {
      const x = xOf(c);
      const y = yOf(r);
      const path = closedLine(x, y);
      const g = svg.append("g");
      g.append("path").attr("d", path(pairs(c2) as any)).attr("fill", PALE).attr("stroke", "#66D9FF").attr("stroke-width", 1);
      g.append("path").attr("d", path(pairs(c1) as any)).attr("fill", BLUE);
      [w2, w1].forEach((d) =>
        g.append("path").attr("d", path(pairs(d) as any)).attr("fill", "none").attr("stroke", RED).attr("stroke-width", 3.6)
      );
      [n2, n1].forEach((d) => {
        if (d) g.append("path").attr("d", path(pairs(d) as any)).attr("fill", "none").attr("stroke", "black").attr("stroke-width", 3.4);
      });
    });

    // 1D posteriors
    diagPanels.forEach(([grid, cosmo, wl, no], i) => {
      const x = xOf(i);
      const y = d3.scaleLinear().domain([0, 1.095]).range([top + (i + 1) * rowH - 0.8, top + i * rowH]);
      const line = (vals: number[]) =>
        d3.line().x((_: any, k: number) => x(grid[k])).y((d: any) => y(d)).curve(d3.curveCatmullRom.alpha(0.5))(vals as any);
      [[cosmo, BLUE], [wl, RED], [no, "black"]].forEach(([vals, col]: any) => {
        if (vals) svg.append("path").attr("d", line(vals)).attr("fill", "none").attr("stroke", col).attr("stroke-width", 3.6);
      });
    });

    // truth lines, ticks and frames
    for (let r = 0; r < 9; r++) {
      for (let c = 0; c <= r; c++) {
        const x = xOf(c);
        const y = yOf(r);
        const g = svg.append("g").attr("fill", "none");
        g.append("line")
          .attr("x1", x(truths[c])).attr("x2", x(truths[c]))
          .attr("y1", y.range()[1]).attr("y2", y.range()[0])
          .attr("stroke", "#808080").attr("stroke-width", 1.4).attr("stroke-dasharray", "6.5 2.5");
        if (r !== c) {
          g.append("line")
            .attr("y1", y(truths[r])).attr("y2", y(truths[r]))
            .attr("x1", x.range()[0]).attr("x2", x.range()[1])
            .attr("stroke", "#808080").attr("stroke-width", 1.6).attr("stroke-dasharray", "6.5 2.5");
        }
        const bottom = d3.axisBottom(x).tickValues(xTicks[c]).tickSize(-9).tickFormat(() => "");
        const gb = g.append("g").attr("transform", `translate(0,${y.range()[0]})`).call(bottom);
        if (r !== c) {
          const topAxis = d3.axisTop(x).tickValues(xTicks[c]).tickSize(-9).tickFormat(() => "");
          g.append("g").attr("transform", `translate(0,${y.range()[1]})`).call(topAxis).select(".domain").remove();
          const la = d3.axisLeft(y).tickValues(yTicks[r]).tickSize(-9).tickFormat(() => "");
          g.append("g").attr("transform", `translate(${x.range()[0]},0)`).call(la).select(".domain").remove();
          const ra = d3.axisRight(y).tickValues(yTicks[r]).tickSize(-9).tickFormat(() => "");
          g.append("g").attr("transform", `translate(${x.range()[1]},0)`).call(ra).select(".domain").remove();
        }
        gb.select(".domain").remove();
        g.selectAll("line").filter(function (this: any) { return !this.getAttribute("stroke-dasharray"); })
          .attr("stroke", "black").attr("stroke-width", 1.7);
        g.append("rect")
          .attr("x", x.range()[0]).attr("y", y.range()[1])
          .attr("width", colW).attr("height", rowH)
          .attr("stroke", "black").attr("stroke-width", 1.7);
      }
    }

    const rotatedHeight = (s: string) => textWidth(s) * 0.5 + tickFont * 0.73 * 0.866;
    const rotatedWidth = (s: string) => textWidth(s) * 0.866 + tickFont * 0.73 * 0.5;

    // bottom tick labels and axis names
    const bottomEdge = top + 9 * rowH;
    xTicks.forEach((ticks, c) => {
      const x = xOf(c);
      ticks.forEach((t, k) => {
        const s = xTickText[c][k];
        const cy = bottomEdge + 9.5 + rotatedHeight(s) / 2;
        svg.append("text")
          .attr("transform", `translate(${x(t) + 1},${cy}) rotate(-30)`)
          .attr("text-anchor", "middle").attr("dominant-baseline", "central")
          .attr("font-family", FONT).attr("font-size", tickFont).text(s);
      });
    });
    yTicks.forEach((ticks, r) => {
      const y = yOf(r);
      ticks.forEach((t, k) => {
        const s = yTickText[r][k];
        const cx = left - 13 - rotatedWidth(s) / 2;
        const cy = y(t) + rotatedHeight(s) / 2 - 11;
        svg.append("text")
          .attr("transform", `translate(${cx},${cy}) rotate(-30)`)
          .attr("text-anchor", "middle").attr("dominant-baseline", "central")
          .attr("font-family", FONT).attr("font-size", tickFont).text(s);
      });
    });

    const addLabel = (sel: any, parts: any[]) => {
      let wasSub = false;
      parts.forEach(([t, it, sub]: any[]) => {
        const span = sel.append("tspan").text(t)
          .attr("font-style", it ? "italic" : "normal")
          .attr("font-size", sub ? labelFont * 0.7 : labelFont);
        if (sub && !wasSub) span.attr("dy", labelFont * 0.15);
        if (!sub && wasSub) span.attr("dy", -labelFont * 0.15);
        wasSub = !!sub;
      });
    };
    axisLabels.forEach((parts, i) => {
      const xt = svg.append("text")
        .attr("x", left + (i + 0.5) * colW).attr("y", 1970)
        .attr("text-anchor", "middle").attr("font-family", FONT).attr("font-size", labelFont);
      addLabel(xt, parts);
      if (i > 0) {
        const yt = svg.append("text")
          .attr("transform", `translate(47,${top + (i + 0.5) * rowH}) rotate(-90)`)
          .attr("text-anchor", "middle").attr("font-family", FONT).attr("font-size", labelFont);
        addLabel(yt, parts);
      }
    });

    // legend
    const legend = svg.append("g");
    legend.append("line").attr("x1", 1230).attr("x2", 1321).attr("y1", 336.7).attr("y2", 336.7).attr("stroke", "black").attr("stroke-width", 3.2);
    legend.append("rect").attr("x", 1230).attr("y", 388).attr("width", 91).attr("height", 33.5).attr("fill", BLUE).attr("stroke", "#66D9FF").attr("stroke-width", 1);
    legend.append("line").attr("x1", 1229).attr("x2", 1321).attr("y1", 469).attr("y2", 469).attr("stroke", RED).attr("stroke-width", 3.5);
    legendNames.forEach((n, i) => {
      legend.append("text")
        .attr("x", 1355.5).attr("y", [351, 419.3, 485.7][i])
        .attr("font-family", FONT).attr("font-size", 43.6).text(n);
    });
  }, []);

  return (
    <svg
      ref={ref}
      width={W}
      height={H}
      style={{ position: "absolute", left: 0, top: 0, display: "block" }}
    />
  );
};

export default function App() {
  return <CornerPlot />;
}
